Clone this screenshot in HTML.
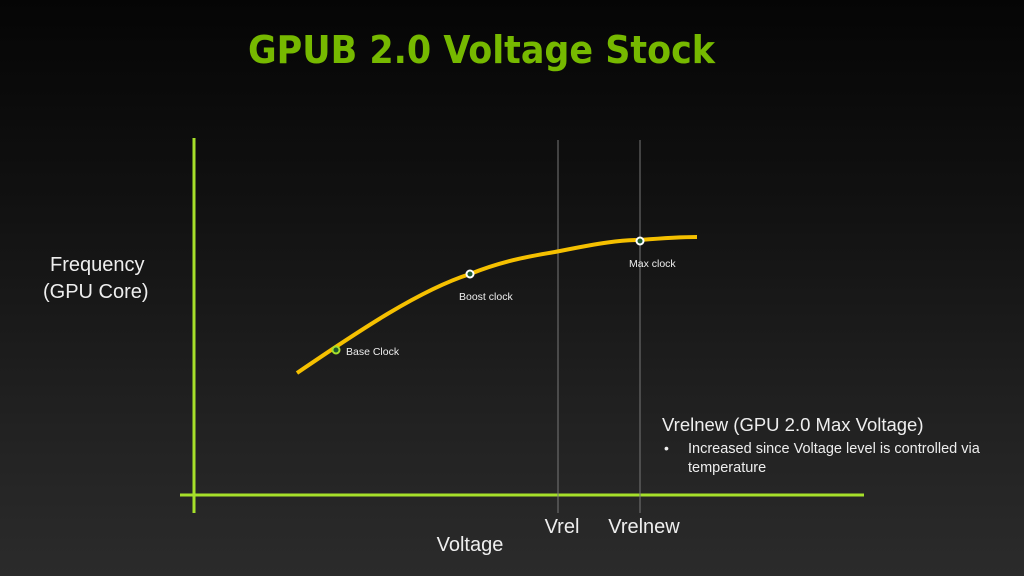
<!DOCTYPE html>
<html><head><style>
html,body{margin:0;padding:0;width:1024px;height:576px;overflow:hidden}
body{background:linear-gradient(#050505 0%,#111 35%,#222 75%,#2b2b2b 100%);}
svg{position:absolute;left:0;top:0}
</style></head><body>
<svg width="1024" height="576" viewBox="0 0 1024 576">
<text x="248" y="63" font-family="DejaVu Sans Condensed, DejaVu Sans, sans-serif" font-weight="bold" font-size="38" fill="#76b900" textLength="467" lengthAdjust="spacingAndGlyphs">GPUB 2.0 Voltage Stock</text>
<line x1="194" y1="138" x2="194" y2="513" stroke="#a6e02a" stroke-width="3"/>
<line x1="180" y1="495" x2="864" y2="495" stroke="#a6e02a" stroke-width="3"/>
<line x1="558" y1="140" x2="558" y2="513" stroke="#777" stroke-width="1"/>
<line x1="640" y1="140" x2="640" y2="513" stroke="#777" stroke-width="1"/>
<path d="M297,373 C360,330 420,290 470,274 C510,258 540,255 560,251 C600,243 620,240 640,240 C665,238 680,237 697,237" fill="none" stroke="#f5c000" stroke-width="4"/>
<circle cx="336" cy="350" r="3.5" fill="#1a5a30" stroke="#a6e02a" stroke-width="2"/>
<circle cx="470" cy="274" r="3.5" fill="#1a5a30" stroke="#fff" stroke-width="2"/>
<circle cx="640" cy="241" r="3.5" fill="#1a5a30" stroke="#fff" stroke-width="2"/>
<g font-family="Liberation Sans, sans-serif" fill="#eee">
<text x="346" y="355" font-size="10.5">Base Clock</text>
<text x="459" y="300" font-size="10.5">Boost clock</text>
<text x="629" y="267" font-size="10.5">Max clock</text>
<text x="50" y="271" font-size="20">Frequency</text>
<text x="43" y="298" font-size="20">(GPU Core)</text>
<text x="470" y="551" font-size="20" text-anchor="middle">Voltage</text>
<text x="562" y="533" font-size="20" text-anchor="middle">Vrel</text>
<text x="644" y="533" font-size="20" text-anchor="middle">Vrelnew</text>
<text x="662" y="431" font-size="18.5">Vrelnew (GPU 2.0 Max Voltage)</text>
<text x="664" y="453" font-size="14">•</text>
<text x="688" y="453" font-size="14.5">Increased since Voltage level is controlled via</text>
<text x="688" y="472" font-size="14.5">temperature</text>
</g>
</svg>
</body></html>
